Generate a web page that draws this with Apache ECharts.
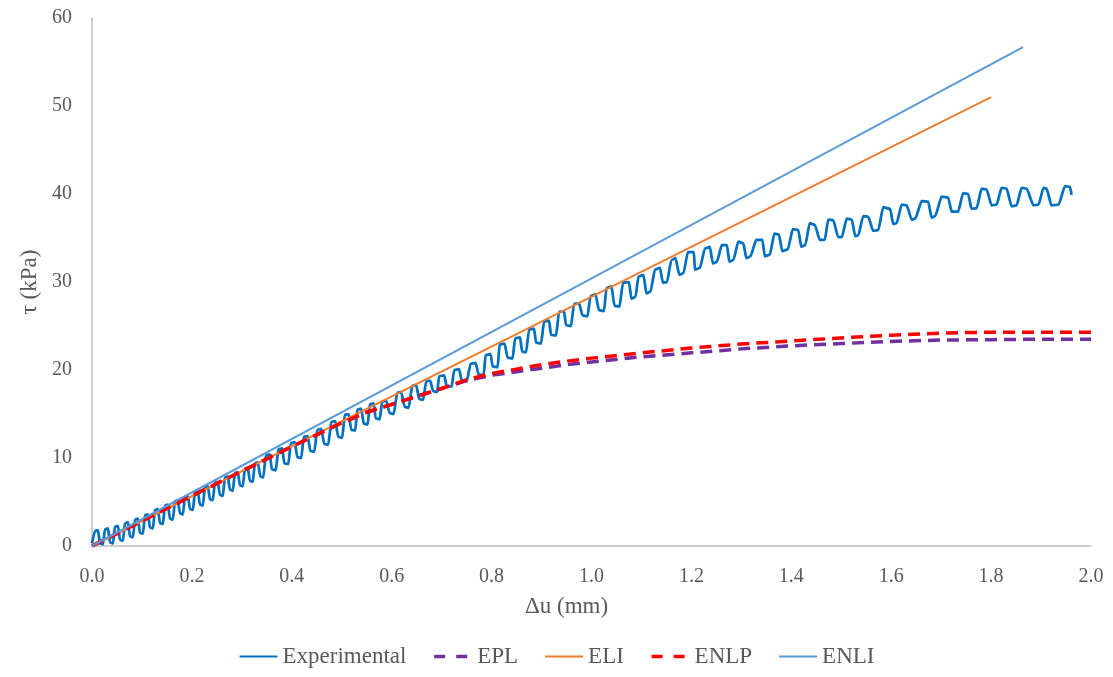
<!DOCTYPE html>
<html>
<head>
<meta charset="utf-8">
<title>Shear stress vs. displacement</title>
<script src="https://cdn.jsdelivr.net/npm/echarts@6/dist/echarts.min.js"></script>
<style>
  html, body { margin: 0; padding: 0; background: #fff; }
  #chart { width: 1113px; height: 677px; }
</style>
</head>
<body>
<div id="chart"></div>
<script>
// Axis ticks
const xTicks = { min: 0, max: 2, step: 0.2 };
const yTicks = { min: 0, max: 60, step: 10 };

// Series names, in legend order
const seriesNames = ['Experimental', 'EPL', 'ELI', 'ENLP', 'ENLI'];

// Measured shear stress τ (kPa) against relative displacement Δu (mm)
const experimental = [
  [0.000,0.3],
  [0.006,1.7],[0.012,1.8],[0.016,0.3],[0.022,0.2],
  [0.026,1.9],[0.032,2.0],[0.036,0.4],[0.042,0.3],
  [0.046,2.2],[0.052,2.3],[0.056,0.7],[0.062,0.6],
  [0.066,2.6],[0.072,2.7],[0.076,1.1],[0.082,1.0],
  [0.086,3.0],[0.092,3.1],[0.096,1.5],[0.102,1.4],
  [0.106,3.5],[0.112,3.6],[0.116,2.1],[0.122,2.0],
  [0.126,4.1],[0.132,4.2],[0.136,2.6],[0.142,2.5],
  [0.146,4.6],[0.152,4.7],[0.156,3.1],[0.162,3.0],
  [0.166,5.1],[0.172,5.2],[0.176,3.7],[0.182,3.6],
  [0.186,5.6],[0.192,5.7],[0.196,4.2],[0.202,4.1],
  [0.206,6.1],[0.212,6.2],[0.216,4.7],[0.222,4.6],
  [0.226,6.7],[0.232,6.8],[0.236,5.3],[0.242,5.2],
  [0.246,7.2],[0.252,7.3],[0.256,5.8],[0.262,5.7],
  [0.266,7.8],[0.272,7.9],[0.276,6.4],[0.282,6.3],
  [0.286,8.3],[0.292,8.4],[0.296,6.9],[0.302,6.8],
  [0.306,8.8],[0.312,8.9],[0.316,7.4],[0.322,7.3],
  [0.326,9.4],[0.332,9.5],[0.337,7.9],[0.343,7.8],
  [0.348,10.3],[0.356,10.4],[0.360,8.7],[0.368,8.6],
  [0.373,11.0],[0.381,11.1],[0.385,9.4],[0.393,9.3],
  [0.398,11.7],[0.406,11.8],[0.411,10.1],[0.419,10.0],
  [0.424,12.4],[0.432,12.5],[0.437,10.8],[0.445,10.7],
  [0.451,13.2],[0.459,13.3],[0.465,11.6],[0.473,11.5],
  [0.479,14.1],[0.487,14.2],[0.493,12.4],[0.501,12.3],
  [0.506,14.9],[0.514,15.0],[0.519,13.2],[0.527,13.1],
  [0.531,15.5],[0.539,15.6],[0.544,13.9],[0.552,13.8],
  [0.556,16.1],[0.564,16.2],[0.568,14.5],[0.576,14.4],
  [0.581,16.4],[0.589,16.5],[0.596,15.1],[0.604,15.0],
  [0.611,17.4],[0.619,17.5],[0.626,15.8],[0.634,15.7],
  [0.641,18.2],[0.649,18.3],[0.655,16.7],[0.663,16.6],
  [0.669,18.7],[0.677,18.8],[0.683,17.6],[0.691,17.5],
  [0.695,19.3],[0.705,19.4],[0.710,18.2],[0.720,18.1],
  [0.725,20.0],[0.735,20.1],[0.740,18.8],[0.750,18.7],
  [0.758,20.7],[0.768,20.8],[0.774,19.5],[0.784,19.4],
  [0.788,21.7],[0.798,21.8],[0.802,20.4],[0.812,20.3],
  [0.816,22.9],[0.826,23.0],[0.832,21.4],[0.842,21.3],
  [0.847,23.6],[0.857,23.7],[0.861,22.1],[0.869,22.0],
  [0.875,24.6],[0.885,24.7],[0.889,23.1],[0.899,23.0],
  [0.905,25.5],[0.915,25.6],[0.919,24.0],[0.929,23.9],
  [0.935,26.6],[0.945,26.7],[0.949,25.1],[0.959,25.0],
  [0.965,27.5],[0.975,27.6],[0.982,26.2],[0.992,26.1],
  [0.998,28.4],[1.008,28.6],[1.015,26.8],[1.025,26.7],
  [1.030,29.3],[1.040,29.5],[1.046,27.3],[1.056,27.2],
  [1.063,29.9],[1.075,30.0],[1.080,28.1],[1.088,28.3],
  [1.094,30.6],[1.104,30.8],[1.110,28.7],[1.118,28.9],
  [1.127,31.4],[1.137,31.6],[1.143,29.9],[1.151,30.0],
  [1.160,32.5],[1.168,32.7],[1.176,30.8],[1.184,31.0],
  [1.193,33.4],[1.205,33.4],[1.207,31.4],[1.217,31.6],
  [1.227,33.8],[1.237,34.0],[1.243,32.1],[1.251,32.3],
  [1.261,34.2],[1.271,34.2],[1.276,32.3],[1.284,32.5],
  [1.294,34.6],[1.304,34.4],[1.310,32.7],[1.318,32.9],
  [1.330,34.8],[1.342,34.8],[1.347,32.9],[1.357,33.1],
  [1.366,35.5],[1.375,35.4],[1.382,33.5],[1.393,33.7],
  [1.403,36.0],[1.414,35.9],[1.420,34.0],[1.428,34.2],
  [1.437,36.7],[1.447,36.5],[1.457,34.8],[1.467,34.8],
  [1.474,37.1],[1.484,37.0],[1.494,35.1],[1.501,35.1],
  [1.511,37.2],[1.521,37.1],[1.528,35.2],[1.534,35.3],
  [1.544,37.5],[1.554,37.4],[1.564,35.8],[1.574,35.9],
  [1.584,38.5],[1.598,38.3],[1.604,36.6],[1.611,36.7],
  [1.621,38.8],[1.631,38.7],[1.641,37.1],[1.648,37.2],
  [1.661,39.2],[1.674,39.1],[1.681,37.3],[1.688,37.5],
  [1.701,39.7],[1.714,39.6],[1.721,38.0],[1.734,38.0],
  [1.744,40.1],[1.754,40.0],[1.761,38.3],[1.771,38.4],
  [1.781,40.6],[1.791,40.5],[1.801,38.7],[1.811,38.8],
  [1.821,40.7],[1.831,40.6],[1.841,38.6],[1.851,38.7],
  [1.861,40.7],[1.871,40.6],[1.885,38.7],[1.895,38.8],
  [1.905,40.7],[1.911,40.6],[1.921,38.7],[1.935,38.8],
  [1.948,40.9],[1.958,40.8],[1.961,39.9]
];

// Elasto-plastic model
const epl = [
  [0.0,0.0],[0.1,2.85],[0.2,5.7],[0.3,8.5],[0.4,11.3],[0.5,14.0],
  [0.55,15.2],[0.6,16.1],[0.65,17.0],[0.7,17.9],[0.75,18.8],[0.8,19.4],
  [0.85,19.8],[0.9,20.2],[0.95,20.6],[1.0,20.9],[1.1,21.5],[1.2,21.95],
  [1.3,22.4],[1.4,22.75],[1.5,23.0],[1.6,23.25],[1.7,23.4],[1.8,23.45],
  [1.9,23.5],[2.0,23.5]
];

// Elastic linear model
const eli = [[0.0,0.0],[0.9,25.5],[1.8,51.0]];

// Elastic non-linear plastic model
const enlp = [
  [0.0,0.0],[0.1,2.85],[0.2,5.7],[0.3,8.5],[0.4,11.3],[0.5,14.0],
  [0.55,15.2],[0.6,16.1],[0.65,17.0],[0.7,17.9],[0.75,18.9],[0.8,19.6],
  [0.85,20.1],[0.9,20.6],[0.95,21.0],[1.0,21.35],[1.1,21.95],[1.2,22.5],
  [1.3,22.95],[1.4,23.3],[1.5,23.65],[1.6,23.95],[1.7,24.2],[1.8,24.3],
  [1.9,24.3],[2.0,24.3]
];

// Elastic non-linear model
const enli = [[0.0,0.0],[0.932,28.35],[1.864,56.7]];

const colors = ['#0070C0', '#7030A0', '#ED7D31', '#FF0000', '#5B9BD5'];
const dashedSeries = [false, true, false, true, false];
const font = '"Liberation Serif", "Times New Roman", serif';
const textColor = '#595959';

const chart = echarts.init(document.getElementById('chart'), null, { renderer: 'canvas' });

function lineSeries(name, data, color, width, dashed, smooth) {
  return {
    name: name,
    type: 'line',
    data: data,
    showSymbol: false,
    symbol: 'none',
    smooth: smooth || false,
    smoothMonotone: 'x',
    animation: false,
    lineStyle: {
      color: color,
      width: width,
      type: dashed ? [12, 7] : 'solid',
      cap: 'butt',
      join: 'round'
    },
    itemStyle: { color: color }
  };
}

// Legend entries: dashed models get a two-dash key
const legendData = seriesNames.map((name, i) => dashedSeries[i]
  ? { name: name, lineStyle: { type: [11, 11], width: 3.5 } }
  : { name: name });

chart.setOption({
  backgroundColor: '#ffffff',
  animation: false,
  grid: { left: 92, right: 22, top: 18, bottom: 131, containLabel: false },
  legend: {
    data: legendData,
    bottom: 4,
    left: 'center',
    itemWidth: 38,
    itemHeight: 14,
    itemGap: 26,
    itemStyle: { opacity: 0 },
    textStyle: { fontFamily: font, fontSize: 23, color: textColor }
  },
  xAxis: {
    type: 'value',
    min: xTicks.min,
    max: xTicks.max,
    interval: xTicks.step,
    name: 'Δu (mm)',
    nameLocation: 'middle',
    nameGap: 49,
    nameTextStyle: { fontFamily: font, fontSize: 23, color: textColor, padding: [0, 50, 0, 0] },
    axisLine: { show: true, lineStyle: { color: '#BFBFBF', width: 1.5 } },
    axisTick: { show: false },
    splitLine: { show: false },
    axisLabel: {
      margin: 21,
      fontFamily: font, fontSize: 20, color: textColor,
      formatter: v => v.toFixed(1)
    }
  },
  yAxis: {
    type: 'value',
    min: yTicks.min,
    max: yTicks.max,
    interval: yTicks.step,
    name: 'τ (kPa)',
    nameLocation: 'middle',
    nameGap: 51,
    nameTextStyle: { fontFamily: font, fontSize: 23, color: textColor },
    axisLine: { show: true, lineStyle: { color: '#BFBFBF', width: 1.5 } },
    axisTick: { show: false },
    splitLine: { show: false },
    axisLabel: { margin: 20, fontFamily: font, fontSize: 20, color: textColor }
  },
  series: [
    lineSeries(seriesNames[0], experimental, colors[0], 2.75, dashedSeries[0], 0.2),
    lineSeries(seriesNames[1], epl, colors[1], 3.5, dashedSeries[1]),
    lineSeries(seriesNames[2], eli, colors[2], 2, dashedSeries[2]),
    lineSeries(seriesNames[3], enlp, colors[3], 3.5, dashedSeries[3]),
    lineSeries(seriesNames[4], enli, colors[4], 2, dashedSeries[4])
  ]
});
</script>
</body>
</html>
